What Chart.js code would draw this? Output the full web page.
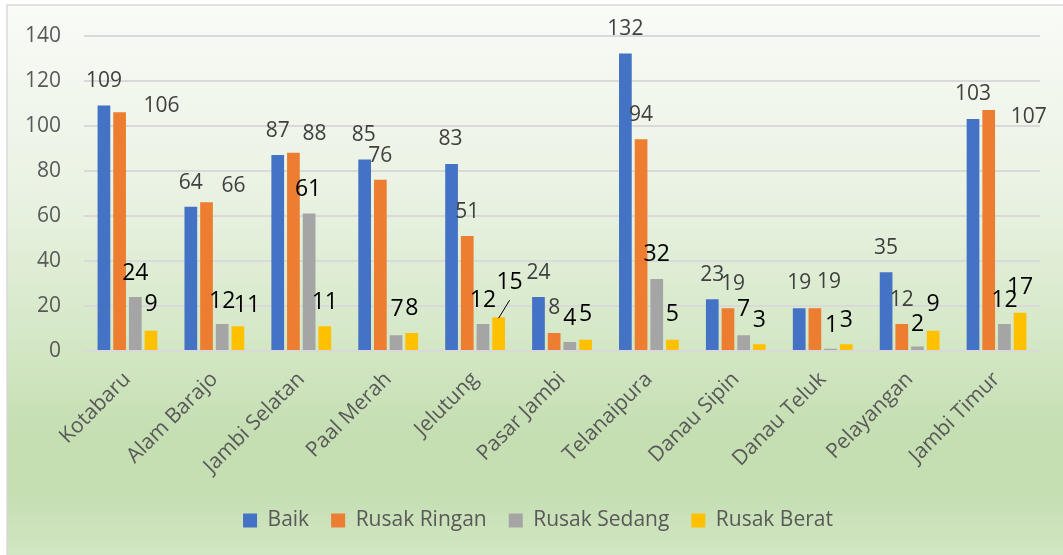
<!DOCTYPE html>
<html>
<head>
<meta charset="utf-8">
<script src="https://cdn.jsdelivr.net/npm/chart.js@4.4.1/dist/chart.umd.min.js"></script>
<style>
  html, body { margin: 0; padding: 0; background: #ffffff; }
  #wrap { width: 1063px; height: 555px; position: relative; }
</style>
</head>
<body>
<div id="wrap"><canvas id="c" width="1063" height="555"></canvas></div>
<script>
// ---- Data ----
const categories = ['Kotabaru', 'Alam Barajo', 'Jambi Selatan', 'Paal Merah', 'Jelutung', 'Pasar Jambi', 'Telanaipura', 'Danau Sipin', 'Danau Teluk', 'Pelayangan', 'Jambi Timur'];
const seriesNames = ['Baik', 'Rusak Ringan', 'Rusak Sedang', 'Rusak Berat'];
const baik = [109, 64, 87, 85, 83, 24, 132, 23, 19, 35, 103];
const rusakRingan = [106, 66, 88, 76, 51, 8, 94, 19, 19, 12, 107];
const rusakSedang = [24, 12, 61, 7, 12, 4, 32, 7, 1, 2, 12];
const rusakBerat = [9, 11, 11, 8, 15, 5, 5, 3, 3, 9, 17];
const yTickValues = [0, 20, 40, 60, 80, 100, 120, 140];

// ---- Styles ----
const seriesColors = ['#4472C4', '#ED7D31', '#A5A5A5', '#FFC000'];
const FONT = "'Open Sans', 'DejaVu Sans', sans-serif";
const textGray = '#595959';

// data-label nudges (dx, dy) relative to default position above each bar
const labelNudges = [
  [[0,0],[0,0],[0,0],[-1,0],[-1,-1],[0,0],[0,-1],[0,0],[0,-1],[0,0],[0,-1]],
  [[42,18],[27,8],[21,5],[0,0],[0,0],[0,-1],[0,0],[5,0],[14,-2],[0,0],[40,31]],
  [[0,1],[0,1],[-1,0],[1,-2],[0,0],[0,0],[0,0],[0,-2],[1,1],[0,2],[0,0]],
  [[0,-2],[9,3],[0,0],[0,-1],[11,-11],[0,-1],[0,-1],[0,0],[0,0],[0,-2],[0,-1]]
];
const leaderLines = [[3, 4]]; // [datasetIndex, categoryIndex]
const labelStyles = [
  { size: 21, color: '#404040' },
  { size: 21, color: '#404040' },
  { size: 23, color: '#000000' },
  { size: 23, color: '#000000' }
];

const bgPlugin = {
  id: 'bg',
  beforeDraw(chart) {
    const ctx = chart.ctx;
    const W = chart.width, H = chart.height;
    ctx.save();
    ctx.fillStyle = '#ffffff';
    ctx.fillRect(0, 0, W, H);
    const g = ctx.createLinearGradient(0, 5, 0, H);
    g.addColorStop(0, '#f9fbf7');
    g.addColorStop(0.35, '#e9f2e2');
    g.addColorStop(0.6, '#d5e8c7');
    g.addColorStop(0.78, '#c5deb2');
    g.addColorStop(0.88, '#c5deb2');
    g.addColorStop(1, '#d1e6c3');
    ctx.fillStyle = g;
    ctx.fillRect(7, 5, W - 7, H - 5);
    ctx.strokeStyle = '#d9d9d9';
    ctx.lineWidth = 1.5;
    ctx.beginPath();
    ctx.moveTo(7, H);
    ctx.lineTo(7, 5);
    ctx.lineTo(W, 5);
    ctx.stroke();
    ctx.restore();
  }
};

// nudge the legend block slightly right, as in the original
const legendShift = {
  id: 'legendShift',
  afterLayout(chart) {
    if (chart.legend) {
      chart.legend.left += 18;
      chart.legend.right += 18;
    }
  }
};

const labelPlugin = {
  id: 'dataLabels',
  afterDatasetsDraw(chart) {
    const ctx = chart.ctx;
    chart.data.datasets.forEach((ds, i) => {
      const meta = chart.getDatasetMeta(i);
      const st = labelStyles[i];
      meta.data.forEach((el, j) => {
        const [dx, dy] = labelNudges[i][j];
        const x = el.x + dx;
        const y = el.y - 24 + dy;
        ctx.save();
        ctx.font = st.size + 'px ' + FONT;
        ctx.fillStyle = st.color;
        ctx.textAlign = 'center';
        ctx.textBaseline = 'middle';
        ctx.fillText(String(ds.data[j]), x, y);
        if (leaderLines.some(p => p[0] === i && p[1] === j)) {
          ctx.strokeStyle = '#000000';
          ctx.lineWidth = 1;
          ctx.beginPath();
          ctx.moveTo(x, y + 18);
          ctx.lineTo(el.x, el.y + 1);
          ctx.stroke();
        }
        ctx.restore();
      });
    });
  }
};

const seriesValues = [baik, rusakRingan, rusakSedang, rusakBerat];

new Chart(document.getElementById('c'), {
  type: 'bar',
  data: {
    labels: categories,
    datasets: seriesNames.map((name, i) => ({
      label: name,
      data: seriesValues[i],
      backgroundColor: seriesColors[i],
      borderWidth: 0,
      categoryPercentage: 0.722,
      barPercentage: 0.81
    }))
  },
  options: {
    responsive: false,
    animation: false,
    devicePixelRatio: 1,
    layout: { padding: { top: 34, right: 23, left: 0, bottom: 14 } },
    plugins: {
      legend: {
        position: 'bottom',
        labels: {
          boxWidth: 14,
          boxHeight: 14,
          padding: 22,
          color: textGray,
          font: { family: FONT, size: 21 }
        }
      },
      tooltip: { enabled: false }
    },
    scales: {
      x: {
        grid: { display: false, drawTicks: false },
        border: { display: false },
        ticks: {
          autoSkip: false,
          maxRotation: 45,
          minRotation: 45,
          padding: 16,
          color: textGray,
          font: { family: FONT, size: 21 }
        },
        afterFit(scale) { scale.height = 137; }
      },
      y: {
        min: 0,
        max: 140,
        afterBuildTicks(scale) { scale.ticks = yTickValues.map(v => ({ value: v })); },
        grid: { color: '#d9d9d9', lineWidth: 2, drawTicks: false },
        border: { display: false },
        ticks: {
          padding: 23,
          color: textGray,
          font: { family: FONT, size: 21 }
        },
        afterFit(scale) { scale.width = 84; }
      }
    }
  },
  plugins: [bgPlugin, legendShift, labelPlugin]
});
</script>
</body>
</html>
